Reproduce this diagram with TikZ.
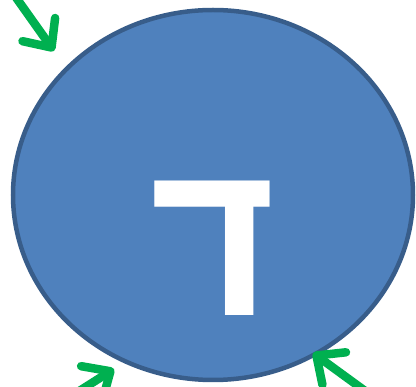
\documentclass[tikz,border=0pt]{standalone}
\usepackage{fontspec}
\newfontfamily\hebfont[Script=Hebrew]{Liberation Sans}
\TeXXeTstate=1
\usetikzlibrary{arrows.meta,shapes.geometric}
\definecolor{discfill}{HTML}{4F81BD}
\definecolor{discline}{HTML}{385D8A}
\definecolor{pointgreen}{HTML}{00B050}

\begin{document}
\begin{tikzpicture}[x=1pt,y=-1pt,
    disc/.style={ellipse, draw=discline, line width=4.5pt, fill=discfill, minimum width=400pt, minimum height=370pt, inner sep=0pt},
    letter/.style={text=white, font=\hebfont\bfseries\fontsize{222}{222}\selectfont, inner sep=0pt, xscale=0.97},
    pointer/.style={draw=pointgreen, line width=8.5pt, line cap=round,
        -{Straight Barb[length=22pt, width=40pt, line cap=round, line join=round]}}
]
\useasboundingbox (0,0) rectangle (416,387);
\clip (0,0) rectangle (416,387);

\node[disc] (disc) at (213,195) {};
\node[letter] (dalet) at (213,248) {\beginR ד\endR};

% arrows pointing at the rim
\coordinate (tlstart) at (5,-18);
\coordinate (tltip) at (54,51);
\coordinate (blstart) at (62,402);
\coordinate (bltip) at (114,369);
\coordinate (brstart) at (372,396);
\coordinate (brtip) at (313,353);

\draw[pointer] (tlstart) -- (tltip);
\draw[pointer] (blstart) -- (bltip);
\draw[pointer] (brstart) -- (brtip);
\end{tikzpicture}
\end{document}
